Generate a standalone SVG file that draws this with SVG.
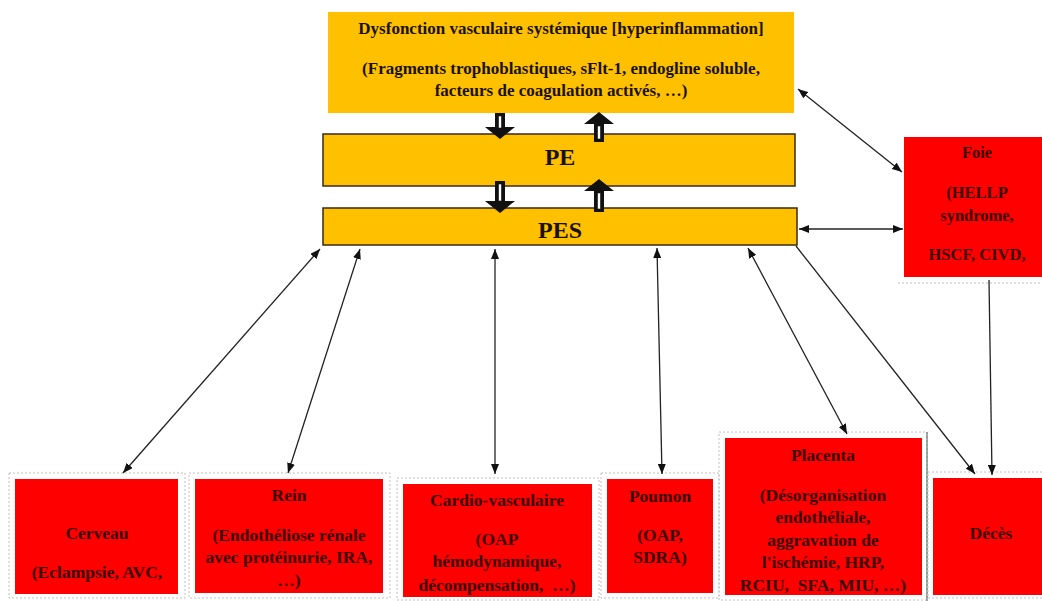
<svg xmlns="http://www.w3.org/2000/svg" width="1042" height="601" viewBox="0 0 1042 601">
<defs>
<style>
.y{fill:#FFC000}
.yb{fill:#FFC000;stroke:#3a2a10;stroke-width:1.5}
.r{fill:#FF0000}
.fr{fill:none;stroke:#c0c0c0;stroke-width:1;stroke-dasharray:2 2}
.t{font-family:"Liberation Serif","Times New Roman",serif;font-weight:bold;text-anchor:middle}
.tt{font-size:17px;fill:#1a1200}
.tb{font-size:24px;fill:#1a1200}
.tr{font-size:17.5px;fill:#3a0000}
.tf{font-size:16.5px;fill:#3a0000}
.c{stroke:#222;stroke-width:1.3;fill:none}
.ba{fill:#111}
.bw{fill:#fff;stroke:#111;stroke-width:0.6}
</style>
<marker id="ah" viewBox="0 0 10 8" refX="10" refY="4" markerWidth="10" markerHeight="8" markerUnits="userSpaceOnUse" orient="auto-start-reverse">
<path d="M0,0 L10,4 L0,8 Z" fill="#111"/>
</marker>
</defs>
<rect width="1042" height="601" fill="#fff"/>

<g id="frames">
<rect class="fr" x="9" y="473" width="176" height="125"/>
<rect class="fr" x="189" y="473" width="201" height="125"/>
<rect class="fr" x="397" y="478" width="202" height="122"/>
<rect class="fr" x="601" y="473" width="118" height="125"/>
<rect class="fr" x="719" y="432" width="208" height="168"/>
<line x1="927" y1="432" x2="927" y2="601" stroke="#555" stroke-width="1"/>
<rect class="fr" x="928" y="472" width="120" height="126"/>
<line class="fr" x1="898" y1="283" x2="1042" y2="283"/>
</g>

<g id="n-top">
<rect class="y" x="328" y="12" width="466" height="101"/>
<text class="t tt" x="561" y="34">Dysfonction vasculaire systémique [hyperinflammation]</text>
<text class="t tt" x="561" y="74">(Fragments trophoblastiques, sFlt-1, endogline soluble,</text>
<text class="t tt" x="561" y="96">facteurs de coagulation activés, …)</text>
</g>

<g id="n-pe">
<rect class="yb" x="323" y="134" width="472" height="52"/>
<text class="t tb" x="560" y="165">PE</text>
</g>

<g id="n-pes">
<rect class="yb" x="323" y="208" width="474" height="37"/>
<text class="t tb" x="560" y="238">PES</text>
</g>

<g id="n-foie">
<rect class="r" x="904" y="137" width="160" height="140"/>
<text class="t tf" x="977" y="158">Foie</text>
<text class="t tf" x="977" y="198">(HELLP</text>
<text class="t tf" x="977" y="221">syndrome,</text>
<text class="t tf" x="977" y="260">HSCF, CIVD,</text>
</g>

<g id="n-cerveau">
<rect class="r" x="15" y="479" width="163" height="115"/>
<text class="t tr" x="97" y="539">Cerveau</text>
<text class="t tr" x="97" y="578">(Eclampsie, AVC,</text>
</g>

<g id="n-rein">
<rect class="r" x="195" y="479" width="188" height="114"/>
<text class="t tr" x="289" y="501">Rein</text>
<text class="t tr" x="289" y="541">(Endothéliose rénale</text>
<text class="t tr" x="289" y="563">avec protéinurie, IRA,</text>
<text class="t tr" x="289" y="586">…)</text>
</g>

<g id="n-cardio">
<rect class="r" x="403" y="484" width="189" height="113"/>
<text class="t tr" x="497" y="506">Cardio-vasculaire</text>
<text class="t tr" x="497" y="545">(OAP</text>
<text class="t tr" x="497" y="567">hémodynamique,</text>
<text class="t tr" x="497" y="591" xml:space="preserve">décompensation,  …)</text>
</g>

<g id="n-poumon">
<rect class="r" x="607" y="479" width="106" height="114"/>
<text class="t tr" x="660" y="502">Poumon</text>
<text class="t tr" x="660" y="541">(OAP,</text>
<text class="t tr" x="660" y="563">SDRA)</text>
</g>

<g id="n-placenta">
<rect class="r" x="725" y="438" width="197" height="157"/>
<text class="t tr" x="823" y="461">Placenta</text>
<text class="t tr" x="823" y="501">(Désorganisation</text>
<text class="t tr" x="823" y="523">endothéliale,</text>
<text class="t tr" x="823" y="546">aggravation de</text>
<text class="t tr" x="823" y="568">l'ischémie, HRP,</text>
<text class="t tr" x="823" y="591" xml:space="preserve">RCIU,  SFA, MIU, …)</text>
</g>

<g id="n-deces">
<rect class="r" x="933" y="478" width="120" height="117"/>
<text class="t tr" x="991" y="539">Décès</text>
</g>

<g id="block-arrows">
<path class="ba" d="M495,113 H505 V127 H515 L500,139 L485,127 H495 Z"/>
<rect class="bw" x="498.5" y="116" width="3" height="12"/>
<path class="ba" d="M594,142 H604 V124 H614 L599,112 L584,124 H594 Z"/>
<rect class="bw" x="597.5" y="126" width="3" height="13"/>
<path class="ba" d="M495,181 H505 V201 H515 L500,213 L485,201 H495 Z"/>
<rect class="bw" x="498.5" y="184" width="3" height="17"/>
<path class="ba" d="M594,212 H604 V191 H614 L599,179 L584,191 H594 Z"/>
<rect class="bw" x="597.5" y="193" width="3" height="16"/>
</g>

<g id="connectors">
<line class="c" x1="320" y1="249" x2="123" y2="473" marker-start="url(#ah)" marker-end="url(#ah)"/>
<line class="c" x1="360" y1="249" x2="288" y2="473" marker-start="url(#ah)" marker-end="url(#ah)"/>
<line class="c" x1="495" y1="249" x2="495" y2="474" marker-start="url(#ah)" marker-end="url(#ah)"/>
<line class="c" x1="657" y1="248" x2="662" y2="474" marker-start="url(#ah)" marker-end="url(#ah)"/>
<line class="c" x1="748" y1="248" x2="847" y2="434" marker-start="url(#ah)" marker-end="url(#ah)"/>
<line class="c" x1="796" y1="246" x2="975" y2="474" marker-end="url(#ah)"/>
<line class="c" x1="989" y1="280" x2="992" y2="475" marker-end="url(#ah)"/>
<line class="c" x1="798" y1="89" x2="902" y2="172" marker-start="url(#ah)" marker-end="url(#ah)"/>
<line class="c" x1="799" y1="229" x2="903" y2="229" marker-start="url(#ah)" marker-end="url(#ah)"/>
</g>
</svg>
